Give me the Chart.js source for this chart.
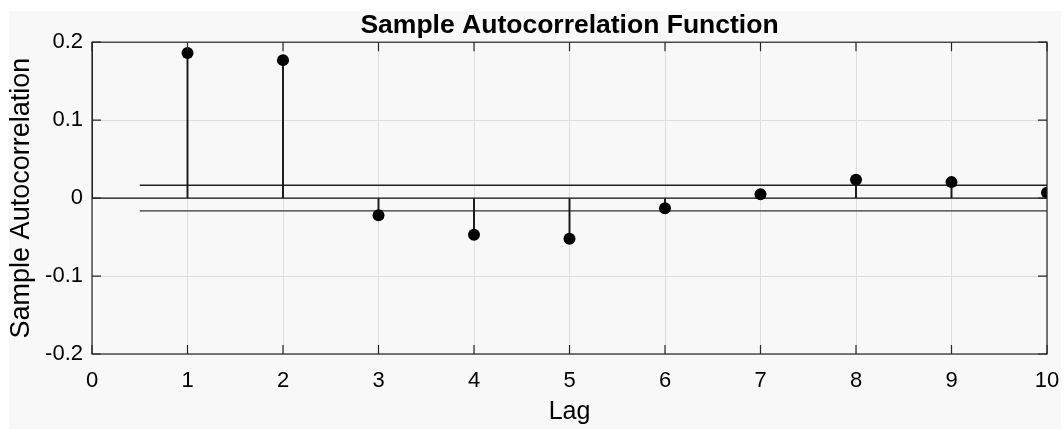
<!DOCTYPE html>
<html>
<head>
<meta charset="utf-8">
<script src="https://cdn.jsdelivr.net/npm/chart.js@4.4.0/dist/chart.umd.min.js"></script>
<style>
html, body { margin: 0; padding: 0; background: #fff; }
canvas { display: block; }
</style>
</head>
<body>
<canvas id="myChart" width="1064" height="429"></canvas>
<script>
// valeurs (lag 0 = 1, hors cadre)
const lags = [0, 1, 2, 3, 4, 5, 6, 7, 8, 9, 10];
const acf = [1, 0.186, 0.177, -0.022, -0.047, -0.052, -0.013, 0.005, 0.0235, 0.0205, 0.007];
// bornes de confiance
const boundLags = [0.5, 10];
const upperBound = [0.0165, 0.0165];
const lowerBound = [-0.0165, -0.0165];
const zeroLags = [0, 10];
const zeroLine = [0, 0];
// graduations
const xTickValues = [0, 1, 2, 3, 4, 5, 6, 7, 8, 9, 10];
const xTickLabels = ['0', '1', '2', '3', '4', '5', '6', '7', '8', '9', '10'];
const yTickValues = [-0.2, -0.1, 0, 0.1, 0.2];
const yTickLabels = ['-0.2', '-0.1', '0', '0.1', '0.2'];

const police = "'Liberation Sans', Arial, Helvetica, sans-serif";
const pts = (xs, ys) => xs.map((x, i) => ({ x: x, y: ys[i] }));

// fond gris clair comme matlab
const fond = {
    id: 'fond',
    beforeDraw(chart) {
        const c = chart.ctx;
        c.save();
        c.fillStyle = '#ffffff';
        c.fillRect(0, 0, chart.width, chart.height);
        c.fillStyle = '#f8f8f8';
        c.fillRect(9, 11, chart.width - 12, chart.height - 11);
        c.restore();
    }
};

// cadre + petites graduations vers l'intérieur
const cadre = {
    id: 'cadre',
    afterDatasetsDraw(chart) {
        const c = chart.ctx;
        const a = chart.chartArea;
        const sx = chart.scales.x, sy = chart.scales.y;
        c.save();
        c.strokeStyle = '#262626';
        c.lineWidth = 1.2;
        c.strokeRect(a.left, a.top, a.right - a.left, a.bottom - a.top);
        c.beginPath();
        xTickValues.forEach(v => {
            const px = sx.getPixelForValue(v);
            c.moveTo(px, a.bottom); c.lineTo(px, a.bottom - 9);
            c.moveTo(px, a.top); c.lineTo(px, a.top + 9);
        });
        yTickValues.forEach(v => {
            const py = sy.getPixelForValue(v);
            c.moveTo(a.left, py); c.lineTo(a.left + 9, py);
            c.moveTo(a.right, py); c.lineTo(a.right - 9, py);
        });
        c.stroke();
        c.restore();
    }
};

const ctx = document.getElementById('myChart').getContext('2d');
const myChart = new Chart(ctx, {
    type: 'bar',
    data: {
        datasets: [{
            type: 'line',
            label: 'acf',
            data: pts(lags, acf),
            showLine: false,
            pointRadius: 6,
            pointBackgroundColor: '#000',
            pointBorderColor: '#000',
            pointBorderWidth: 0,
            order: 0
        }, {
            type: 'bar',
            label: 'tiges',
            data: pts(lags, acf),
            backgroundColor: '#1a1a1a',
            barThickness: 1.3,
            grouped: false,
            order: 2
        }, {
            type: 'line',
            label: 'zero',
            data: pts(zeroLags, zeroLine),
            borderColor: '#111',
            borderWidth: 1.3,
            pointRadius: 0,
            order: 3
        }, {
            type: 'line',
            label: 'borne haute',
            data: pts(boundLags, upperBound),
            borderColor: '#222',
            borderWidth: 1.3,
            pointRadius: 0,
            order: 3
        }, {
            type: 'line',
            label: 'borne basse',
            data: pts(boundLags, lowerBound),
            borderColor: '#333',
            borderWidth: 1.3,
            pointRadius: 0,
            order: 3
        }]
    },
    options: {
        responsive: false,
        animation: false,
        devicePixelRatio: 1,
        layout: { padding: { left: 0, right: 17, top: 0, bottom: 0 } },
        plugins: {
            legend: { display: false },
            tooltip: { enabled: false },
            title: {
                display: true,
                fullSize: false,
                text: 'Sample Autocorrelation Function',
                color: '#000',
                font: { family: police, size: 26.5, weight: 'bold' },
                padding: { top: 10, bottom: 0.4 }
            }
        },
        scales: {
            x: {
                type: 'linear',
                min: 0,
                max: 10,
                offset: false,
                afterFit: s => { s.height = 75; s.paddingLeft = 0; s.paddingRight = 0; },
                afterBuildTicks: s => { s.ticks = xTickValues.map(v => ({ value: v })); },
                grid: { color: '#dedede', drawTicks: false, offset: false },
                border: { display: false },
                ticks: {
                    color: '#000',
                    font: { family: police, size: 22 },
                    padding: 14,
                    maxRotation: 0,
                    autoSkip: false,
                    callback: v => xTickLabels[xTickValues.indexOf(v)]
                },
                title: {
                    display: true,
                    text: 'Lag',
                    color: '#000',
                    font: { family: police, size: 25 },
                    padding: { top: 0, bottom: 2 }
                }
            },
            y: {
                min: -0.2,
                max: 0.2,
                afterFit: s => { s.width = 92; },
                afterBuildTicks: s => { s.ticks = yTickValues.map(v => ({ value: v })); },
                grid: { color: '#dedede', drawTicks: false },
                border: { display: false },
                ticks: {
                    color: '#000',
                    font: { family: police, size: 22 },
                    padding: 9,
                    callback: (v, i) => yTickLabels[i]
                },
                title: {
                    display: true,
                    text: 'Sample Autocorrelation',
                    color: '#000',
                    font: { family: police, size: 27 },
                    padding: { top: 5, bottom: 0 }
                }
            }
        }
    },
    plugins: [fond, cadre]
});
</script>
</body>
</html>
